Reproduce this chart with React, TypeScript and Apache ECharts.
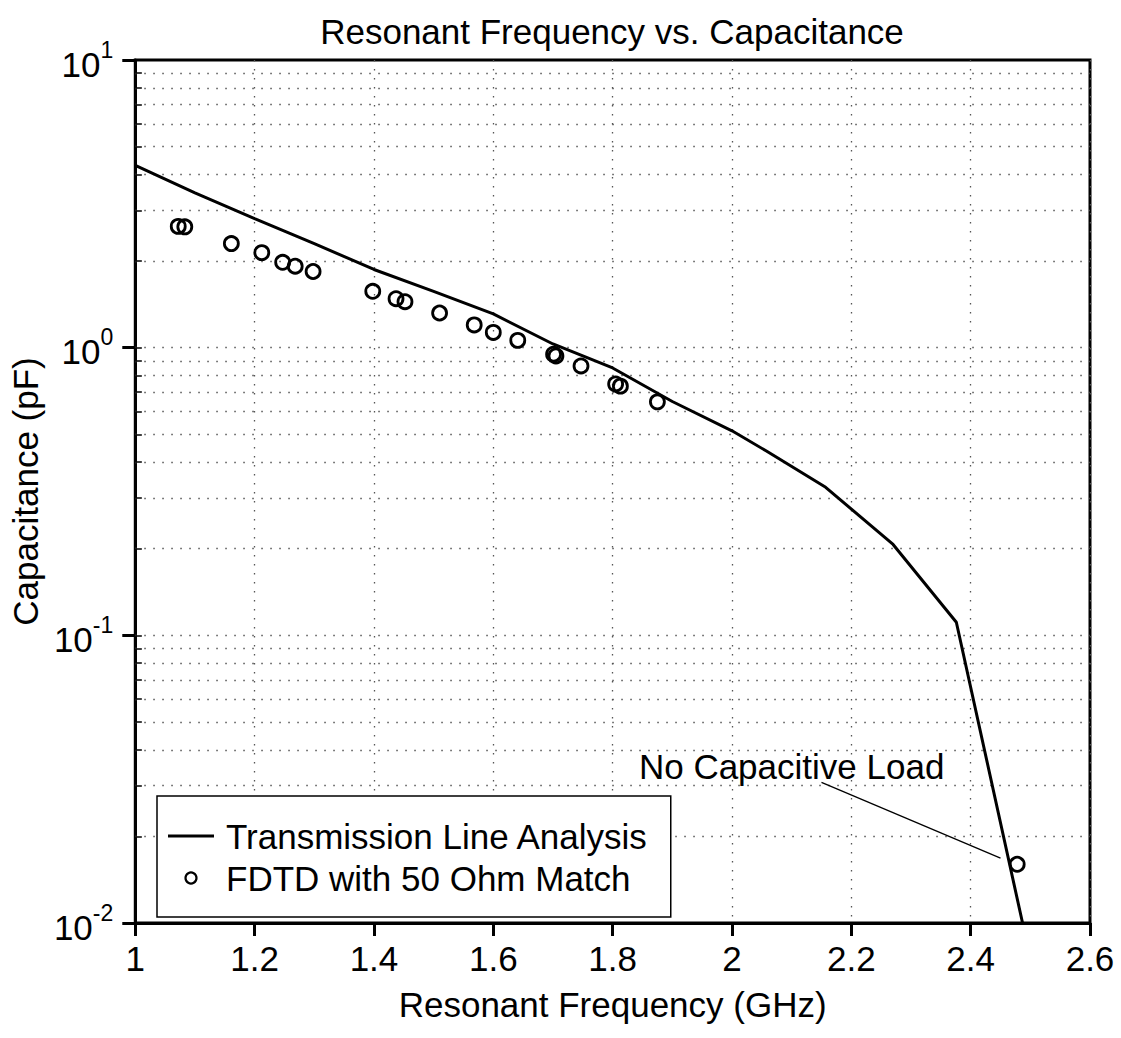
import React, { useEffect, useRef } from "react";
import * as echarts from "echarts";

// ---- Data ----
const lineFreq = [1.0, 1.1, 1.2, 1.3, 1.4, 1.5, 1.6, 1.7, 1.8, 1.9, 2.0, 2.057, 2.157, 2.27, 2.376, 2.487];
const lineCap = [4.3, 3.45, 2.81, 2.3, 1.87, 1.57, 1.31, 1.03, 0.85, 0.65, 0.514, 0.438, 0.327, 0.207, 0.111, 0.01];

const fdtdFreq = [1.072, 1.083, 1.161, 1.212, 1.247, 1.268, 1.298, 1.398, 1.437, 1.452, 1.51, 1.568, 1.6, 1.641, 1.701, 1.705, 1.747, 1.805, 1.813, 1.875, 2.478];
const fdtdCap = [2.64, 2.63, 2.3, 2.14, 1.98, 1.92, 1.84, 1.57, 1.48, 1.445, 1.32, 1.2, 1.13, 1.06, 0.949, 0.936, 0.864, 0.748, 0.735, 0.648, 0.016];

const xTickMin = 1;
const xTickMax = 2.6;
const xTickStep = 0.2;
const yMin = 0.01;
const yMax = 10;

const gridDecades = [0.01, 0.1, 1];
const gridMultipliers = [1, 2, 3, 4, 5, 6, 7, 8, 9];

const annotationText = "No Capacitive Load";
const annotationTextAt = [2.1, 0.0349];
const annotationLeaderFrom = [2.15, 0.0308];
const annotationLeaderTo = [2.45, 0.0168];

const seriesNames = ["Transmission Line Analysis", "FDTD with 50 Ohm Match"];
const titleText = "Resonant Frequency vs. Capacitance";
const xName = "Resonant Frequency (GHz)";
const yName = "Capacitance (pF)";

const FONT = "'Liberation Sans', Arial, Helvetica, sans-serif";
const GRID_DOT = { color: "#555", width: 1.3, type: [1.5, 7.5] };

export default function App() {
  const ref = useRef<HTMLDivElement>(null);

  useEffect(() => {
    if (!ref.current) return;
    const chart = echarts.init(ref.current, undefined, { renderer: "svg" });

    const gridValues: number[] = [];
    gridDecades.forEach((d) =>
      gridMultipliers.forEach((m) => {
        const v = d * m;
        if (v > yMin * 1.0001 && v < yMax * 0.9999) gridValues.push(v);
      })
    );

    const minorTickLines = gridValues.map((v) => [
      { coord: [xTickMin, v], lineStyle: { color: "#000", width: 1.5, type: "solid" } },
      { coord: [xTickMin + 0.011, v] },
    ]);

    const option: any = {
      animation: false,
      backgroundColor: "#fff",
      title: {
        text: titleText,
        left: 612,
        textAlign: "center",
        top: 14,
        padding: 0,
        textStyle: { fontSize: 35, fontWeight: "normal", color: "#000", fontFamily: FONT },
      },
      grid: {
        left: 134,
        right: 31,
        top: 60,
        bottom: 115,
        show: true,
        borderColor: "#000",
        borderWidth: 3,
        backgroundColor: "transparent",
      },
      legend: {
        show: true,
        orient: "vertical",
        left: 157,
        top: 796,
        padding: [22, 22, 21, 11],
        itemGap: 6,
        itemWidth: 46,
        itemHeight: 11,
        symbolKeepAspect: true,
        backgroundColor: "#fff",
        borderColor: "#000",
        borderWidth: 1.5,
        borderRadius: 0,
        z: 10,
        textStyle: { fontSize: 35, color: "#000", fontFamily: FONT, lineHeight: 36, padding: [0, 0, 0, 7] },
        data: [
          {
            name: seriesNames[0],
            icon: "path://M0,0H46V3H0Z",
            itemStyle: { color: "#000", borderWidth: 0, opacity: 1 },
          },
          {
            name: seriesNames[1],
            icon: "circle",
            itemStyle: { color: "transparent", borderColor: "#000", borderWidth: 2.2, opacity: 1 },
          },
        ],
      },
      xAxis: {
        type: "value",
        min: xTickMin,
        max: xTickMax,
        interval: xTickStep,
        axisLine: { show: true, lineStyle: { color: "#000", width: 3 } },
        axisTick: { show: true, length: 13, lineStyle: { color: "#000", width: 3 } },
        axisLabel: {
          fontSize: 35,
          color: "#000",
          fontFamily: FONT,
          margin: 18,
          formatter: (v: number) => String(Math.round(v * 10) / 10),
        },
        splitLine: { show: true, lineStyle: GRID_DOT },
        name: xName,
        nameLocation: "middle",
        nameGap: 64,
        nameTextStyle: { fontSize: 35, color: "#000", fontFamily: FONT },
      },
      yAxis: {
        type: "log",
        logBase: 10,
        min: yMin,
        max: yMax,
        axisLine: { show: true, lineStyle: { color: "#000", width: 3 } },
        axisTick: { show: true, length: 13, lineStyle: { color: "#000", width: 3 } },
        axisLabel: {
          margin: 22,
          formatter: (v: number) => {
            const e = Math.round(Math.log10(v));
            return `{b|10}{s|${e}}`;
          },
          rich: {
            b: { fontSize: 35, fontFamily: FONT, color: "#000", lineHeight: 44, padding: [8, 0, 0, 0] },
            s: { fontSize: 23, fontFamily: FONT, color: "#000", verticalAlign: "top", lineHeight: 23 },
          },
        },
        splitLine: { show: false },
        name: yName,
        nameLocation: "middle",
        nameGap: 86,
        nameTextStyle: { fontSize: 35, color: "#000", fontFamily: FONT },
      },
      series: [
        {
          name: seriesNames[0],
          type: "line",
          data: lineFreq.map((x, i) => [x, lineCap[i]]),
          showSymbol: false,
          symbol: "none",
          lineStyle: { color: "#000", width: 3 },
          itemStyle: { color: "#000" },
          z: 3,
          clip: true,
          markLine: {
            silent: true,
            symbol: ["none", "none"],
            label: { show: false },
            lineStyle: GRID_DOT,
            z: 1,
            data: gridValues.map((v) => ({ yAxis: v })),
          },
        },
        {
          name: seriesNames[1],
          type: "scatter",
          data: fdtdFreq.map((x, i) => [x, fdtdCap[i]]),
          symbol: "circle",
          symbolSize: 14,
          itemStyle: { color: "transparent", borderColor: "#000", borderWidth: 2.8, opacity: 1 },
          z: 4,
          markLine: {
            silent: true,
            symbol: ["none", "none"],
            label: { show: false },
            lineStyle: { color: "#000", width: 1.3, type: "solid" },
            data: [
              [{ coord: annotationLeaderFrom }, { coord: annotationLeaderTo }],
              ...minorTickLines,
            ],
          },
          markPoint: {
            silent: true,
            data: [
              {
                coord: annotationTextAt,
                symbol: "rect",
                symbolSize: 1,
                itemStyle: { color: "transparent" },
                label: {
                  show: true,
                  position: "inside",
                  formatter: annotationText,
                  fontSize: 35,
                  color: "#000",
                  fontFamily: FONT,
                },
              },
            ],
          },
        },
      ],
    };

    chart.setOption(option);
    return () => chart.dispose();
  }, []);

  return (
    <div
      ref={ref}
      style={{ position: "fixed", left: 0, top: 0, width: 1121, height: 1038, background: "#fff" }}
    />
  );
}
